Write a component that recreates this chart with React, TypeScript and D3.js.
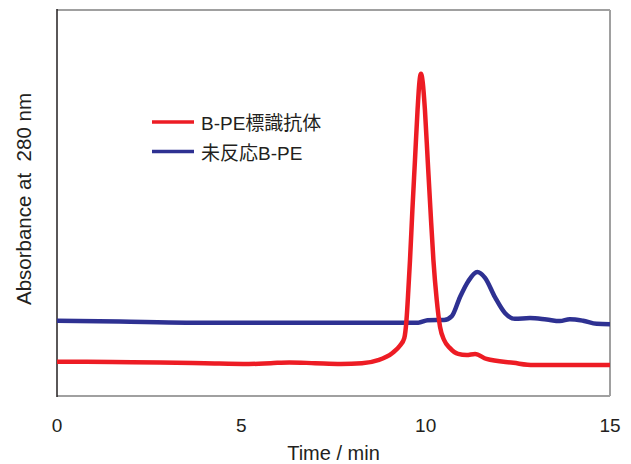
import React from "react";
import * as d3 from "d3";

// Time (min)
const redTime = [0, 1.5, 2.8, 4.0, 5.2, 5.8, 6.3, 7.0, 7.7, 8.27, 8.71, 9.09, 9.3, 9.42, 9.48, 9.53, 9.575, 9.64, 9.71, 9.78, 9.83, 9.873, 9.92, 9.98, 10.055, 10.13, 10.21, 10.3, 10.39, 10.5, 10.66, 10.88, 11.11, 11.34, 11.65, 12.38, 12.92, 15];
// Absorbance (arbitrary units)
const redAbs = [0.089, 0.088, 0.087, 0.085, 0.083, 0.085, 0.087, 0.085, 0.083, 0.085, 0.093, 0.111, 0.130, 0.150, 0.197, 0.274, 0.352, 0.482, 0.611, 0.741, 0.813, 0.835, 0.813, 0.741, 0.611, 0.482, 0.352, 0.249, 0.179, 0.145, 0.124, 0.109, 0.106, 0.109, 0.096, 0.086, 0.080, 0.080];

const blueTime = [0, 1.7, 3.5, 6, 9.0, 9.8, 10.05, 10.3, 10.5, 10.71, 10.93, 11.16, 11.4, 11.61, 11.88, 12.15, 12.42, 12.83, 13.28, 13.64, 13.91, 14.27, 14.64, 15];
const blueAbs = [0.195, 0.193, 0.190, 0.190, 0.190, 0.190, 0.196, 0.197, 0.197, 0.207, 0.256, 0.298, 0.321, 0.306, 0.256, 0.215, 0.200, 0.202, 0.198, 0.194, 0.199, 0.195, 0.187, 0.186];

const xTicks = [0, 5, 10, 15];
const legendLabels = ["B-PE標識抗体", "未反応B-PE"];
const colors = ["#ed1c24", "#2e3192"];

export default function App() {
  const W = 631, H = 464;
  const L = 57, R = 610, T = 10, B = 396;
  const x = d3.scaleLinear().domain([0, 15]).range([L, R]);
  const y = d3.scaleLinear().domain([0, 1]).range([B, T]);
  const line = d3
    .line<[number, number]>()
    .x((d) => x(d[0]))
    .y((d) => y(d[1]))
    .curve(d3.curveMonotoneX);
  const red = redTime.map((t, i) => [t, redAbs[i]] as [number, number]);
  const blue = blueTime.map((t, i) => [t, blueAbs[i]] as [number, number]);
  const font = "'Liberation Sans', Arial, 'Noto Sans CJK JP', sans-serif";
  return (
    <svg width={W} height={H} style={{ position: "absolute", left: 0, top: 0 }} fontFamily={font}>
      <rect x={0} y={0} width={W} height={H} fill="#fff" />
      <line x1={L} x2={R} y1={T} y2={T} stroke="#a0a0a0" strokeWidth={2} />
      <line x1={R} x2={R} y1={T} y2={B} stroke="#a0a0a0" strokeWidth={2} />
      <line x1={L} x2={R} y1={B} y2={B} stroke="#a0a0a0" strokeWidth={2} />
      <line x1={L} x2={L} y1={T - 1} y2={B + 1} stroke="#231f20" strokeWidth={1.5} />
      <path d={line(blue) || ""} fill="none" stroke={colors[1]} strokeWidth={4.5} strokeLinejoin="round" />
      <path d={line(red) || ""} fill="none" stroke={colors[0]} strokeWidth={4.5} strokeLinejoin="round" />
      {xTicks.map((t) => (
        <text key={t} x={x(t)} y={432} textAnchor="middle" fontSize={19} fill="#231f20">
          {t}
        </text>
      ))}
      <text x={(L + R) / 2} y={460} textAnchor="middle" fontSize={20} fill="#231f20">
        Time / min
      </text>
      <text
        transform={`translate(31, 199) rotate(-90)`}
        textAnchor="middle"
        fontSize={20.5}
        fill="#231f20"
        style={{ whiteSpace: "pre" }}
      >
        {"Absorbance at  280 nm"}
      </text>
      {legendLabels.map((lab, i) => (
        <g key={lab}>
          <line x1={152} x2={194} y1={122 + i * 29.5} y2={122 + i * 29.5} stroke={colors[i]} strokeWidth={3.5} />
          <text x={201} y={130 + i * 30} fontSize={19} fill="#231f20">
            {lab}
          </text>
        </g>
      ))}
    </svg>
  );
}
